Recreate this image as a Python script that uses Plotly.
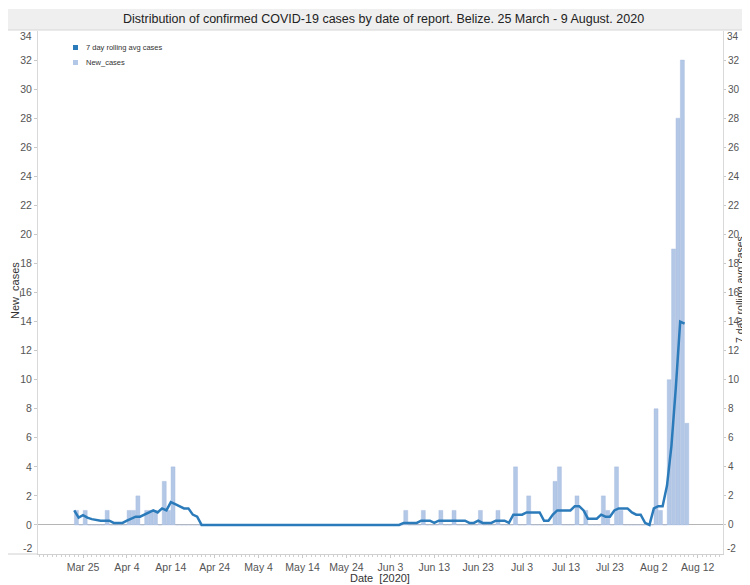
import plotly.graph_objects as go
import pandas as pd

# ---------------- data ----------------
start_date = "2020-03-23"          # first reported day
new_cases = [
    1, 0, 1, 0, 0, 0, 0, 1, 0, 0,      # Mar 23 - Apr 1
    0, 0, 1, 1, 2, 0, 1, 1, 1, 0,      # Apr 2 - Apr 11
    3, 1, 4, 0, 0, 0, 0, 0, 0, 0,      # Apr 12 - Apr 21
    0, 0, 0, 0, 0, 0, 0, 0, 0, 0,      # Apr 22 - May 1
    0, 0, 0, 0, 0, 0, 0, 0, 0, 0,      # May 2 - May 11
    0, 0, 0, 0, 0, 0, 0, 0, 0, 0,      # May 12 - May 21
    0, 0, 0, 0, 0, 0, 0, 0, 0, 0,      # May 22 - May 31
    0, 0, 0, 0, 0, 1, 0, 0, 0, 1,      # Jun 1 - Jun 10
    0, 0, 0, 1, 0, 0, 1, 0, 0, 0,      # Jun 11 - Jun 20
    0, 0, 1, 0, 0, 0, 1, 0, 0, 0,      # Jun 21 - Jun 30
    4, 0, 0, 2, 0, 0, 0, 0, 0, 3,      # Jul 1 - Jul 10
    4, 0, 0, 0, 2, 0, 1, 0, 0, 0,      # Jul 11 - Jul 20
    2, 1, 0, 4, 1, 0, 0, 0, 0, 0,      # Jul 21 - Jul 30
    0, 0, 8, 1, 0, 10, 19, 28, 32, 7,  # Jul 31 - Aug 9
]
rolling_avg = [
    1.00, 0.50, 0.67, 0.50, 0.40, 0.33, 0.29, 0.29, 0.29, 0.14,
    0.14, 0.14, 0.29, 0.43, 0.57, 0.57, 0.71, 0.86, 1.00, 0.86,
    1.14, 1.00, 1.57, 1.43, 1.29, 1.14, 1.14, 0.71, 0.57, 0.00,
    0.00, 0.00, 0.00, 0.00, 0.00, 0.00, 0.00, 0.00, 0.00, 0.00,
    0.00, 0.00, 0.00, 0.00, 0.00, 0.00, 0.00, 0.00, 0.00, 0.00,
    0.00, 0.00, 0.00, 0.00, 0.00, 0.00, 0.00, 0.00, 0.00, 0.00,
    0.00, 0.00, 0.00, 0.00, 0.00, 0.00, 0.00, 0.00, 0.00, 0.00,
    0.00, 0.00, 0.00, 0.00, 0.00, 0.14, 0.14, 0.14, 0.14, 0.29,
    0.29, 0.29, 0.14, 0.29, 0.29, 0.29, 0.29, 0.29, 0.29, 0.29,
    0.14, 0.14, 0.29, 0.14, 0.14, 0.14, 0.29, 0.29, 0.29, 0.14,
    0.71, 0.71, 0.71, 0.86, 0.86, 0.86, 0.86, 0.29, 0.29, 0.71,
    1.00, 1.00, 1.00, 1.00, 1.29, 1.29, 1.00, 0.43, 0.43, 0.43,
    0.71, 0.57, 0.57, 1.00, 1.14, 1.14, 1.14, 0.86, 0.71, 0.71,
    0.14, 0.00, 1.14, 1.29, 1.29, 2.71, 5.43, 9.43, 14.00, 13.86,
]
x_tick_dates = ["2020-03-25", "2020-04-04", "2020-04-14", "2020-04-24",
                "2020-05-04", "2020-05-14", "2020-05-24", "2020-06-03",
                "2020-06-13", "2020-06-23", "2020-07-03", "2020-07-13",
                "2020-07-23", "2020-08-02", "2020-08-12"]
y_ticks = [0, 2, 4, 6, 8, 10, 12, 14, 16, 18, 20, 22, 24, 26, 28, 30, 32]
edge_ticks = ["34", "-2"]

title_text = ("Distribution of confirmed COVID-19 cases by date of report. "
              "Belize. 25 March - 9 August. 2020")

# ---------------- styling ----------------
FONT = "Liberation Sans, Arial, sans-serif"
BAR_COLOR = "#b3c7e6"
LINE_COLOR = "#2b7bba"
TICK_COLOR = "#555555"
TICK_SIZE = 10.5
RTICK_SIZE = 10

# the page body has an 8px margin, so the figure starts at (8, 8) on screen
OFF = 8
SW, SH = 750, 585                       # screen size
W, H = SW - OFF, SH - OFF               # figure size
PL, PR, PT, PB = 38, 723, 31, 554       # plot area on screen
ML, MR, MT, MB = PL - OFF, SW - PR, PT - OFF, SH - PB
PW, PH = PR - PL, PB - PT


def px(x):
    return (x - PL) / PW


def py(y):
    return (PB - y) / PH


dates = pd.date_range(start_date, periods=len(new_cases), freq="D")
bar_x = dates + pd.Timedelta(hours=12)

fig = go.Figure()
fig.add_trace(go.Bar(
    x=bar_x, y=new_cases, name="New_cases",
    marker=dict(color=BAR_COLOR, line=dict(color="#a6bbdd", width=0.4)),
    showlegend=False,
))
fig.add_trace(go.Scatter(
    x=dates, y=rolling_avg, name="7 day rolling avg cases",
    mode="lines", line=dict(color=LINE_COLOR, width=2.5),
    yaxis="y2", showlegend=False,
))

axis_common = dict(
    range=[-2, 34], tickmode="array", tickvals=y_ticks, showgrid=False,
    showline=True, linecolor="#d9d9d9", linewidth=1,
    ticks="outside", tickcolor="#c8c8c8",
    fixedrange=True,
)

fig.update_layout(
    width=W, height=H,
    margin=dict(l=ML, r=MR, t=MT, b=MB, autoexpand=False),
    paper_bgcolor="white", plot_bgcolor="white",
    bargap=0.08,
    font=dict(family=FONT, color="#333333"),
    xaxis=dict(
        type="date",
        range=["2020-03-14 18:00", "2020-08-17 18:00"],
        tickmode="array", tickvals=x_tick_dates,
        tickformat="%b %-d",
        ticks="outside", ticklen=3, tickcolor="#c8c8c8",
        minor=dict(ticks="outside", dtick=86400000, ticklen=2,
                   tickcolor="#d0d0d0"),
        showgrid=False, showline=True, linecolor="#d0d0d0",
        tickfont=dict(family=FONT, size=TICK_SIZE, color=TICK_COLOR),
        automargin=False,
    ),
    yaxis=dict(**axis_common, ticklen=3,
               tickfont=dict(family=FONT, size=TICK_SIZE, color=TICK_COLOR),
               zeroline=True, zerolinecolor="#b5b5b5",
               zerolinewidth=1, automargin=False),
    yaxis2=dict(**axis_common, ticklen=2,
                tickfont=dict(family=FONT, size=RTICK_SIZE, color=TICK_COLOR),
                overlaying="y", side="right",
                zeroline=False, automargin=False),
)

shapes = [
    # title band
    dict(type="rect", xref="paper", yref="paper",
         x0=px(8), x1=px(750), y0=py(30), y1=py(9),
         fillcolor="#efefef", line=dict(width=0), layer="below"),
    dict(type="line", xref="paper", yref="paper",
         x0=px(8), x1=px(750), y0=py(30), y1=py(30),
         line=dict(color="#d6d6d6", width=1)),
    # bottom rule extension
    dict(type="line", xref="paper", yref="paper",
         x0=px(8), x1=px(38), y0=py(554), y1=py(554),
         line=dict(color="#d0d0d0", width=1)),
    # legend swatches
    dict(type="rect", xref="paper", yref="paper",
         x0=px(73), x1=px(78), y0=py(50), y1=py(45),
         fillcolor=LINE_COLOR, line=dict(width=0)),
    dict(type="rect", xref="paper", yref="paper",
         x0=px(73), x1=px(78), y0=py(65), y1=py(60),
         fillcolor=BAR_COLOR, line=dict(width=0)),
]

annotations = [
    dict(text=title_text, x=px(383), y=py(19), xref="paper", yref="paper",
         xanchor="center", yanchor="middle", showarrow=False,
         font=dict(family=FONT, size=12.5, color="#222222")),
    dict(text="7 day rolling avg cases", x=px(84), y=py(47.5),
         xref="paper", yref="paper", xanchor="left", yanchor="middle",
         showarrow=False, font=dict(family=FONT, size=7.5, color="#333333")),
    dict(text="New_cases", x=px(84), y=py(62.5),
         xref="paper", yref="paper", xanchor="left", yanchor="middle",
         showarrow=False, font=dict(family=FONT, size=7.5, color="#333333")),
    dict(text="New_cases", x=px(15), y=py(291), xref="paper", yref="paper",
         textangle=-90, xanchor="center", yanchor="middle", showarrow=False,
         font=dict(family=FONT, size=11, color="#333333")),
    dict(text="7 day rolling avg cases", x=px(740), y=py(290),
         xref="paper", yref="paper", textangle=-90,
         xanchor="center", yanchor="middle", showarrow=False,
         font=dict(family=FONT, size=10.5, color="#333333")),
    dict(text="Date  [2020]", x=px(380), y=py(578), xref="paper", yref="paper",
         xanchor="center", yanchor="middle", showarrow=False,
         font=dict(family=FONT, size=11, color="#333333")),
]
# edge labels (shifted inward, as in the reference)
for lab, ypos in zip(edge_ticks, [36, 548]):
    annotations.append(dict(text=lab, x=px(34), y=py(ypos), xref="paper",
                            yref="paper", xanchor="right", yanchor="middle",
                            showarrow=False,
                            font=dict(family=FONT, size=TICK_SIZE,
                                      color=TICK_COLOR)))
    annotations.append(dict(text=lab, x=px(725), y=py(ypos), xref="paper",
                            yref="paper", xanchor="left", yanchor="middle",
                            showarrow=False,
                            font=dict(family=FONT, size=RTICK_SIZE,
                                      color=TICK_COLOR)))

fig.update_layout(shapes=shapes, annotations=annotations)
fig.write_html("out.html")
